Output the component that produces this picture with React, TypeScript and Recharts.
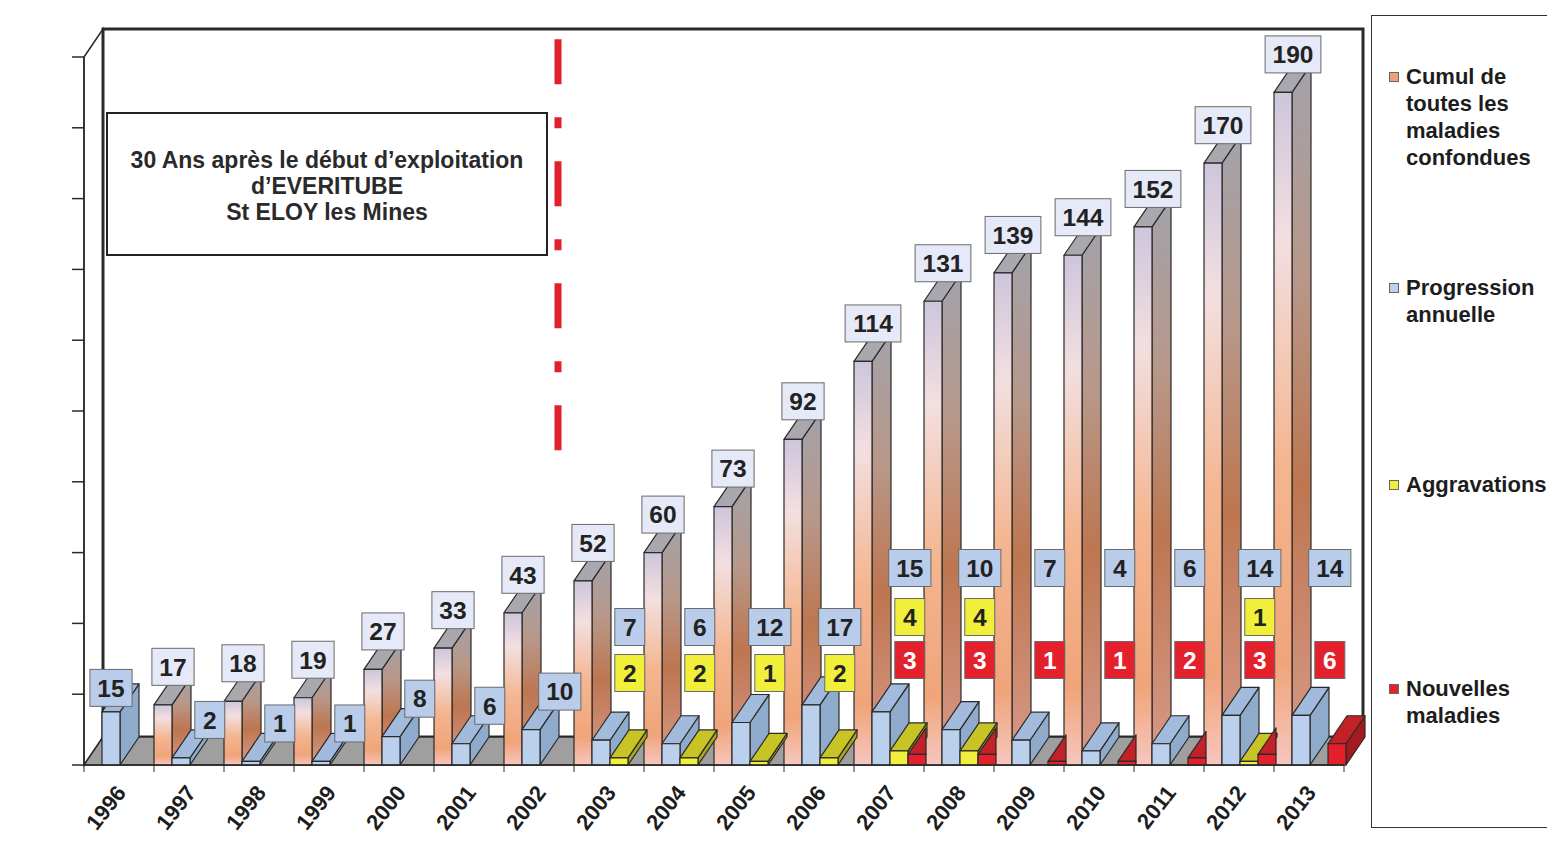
import React from "react";
import {
  Bar,
  BarChart,
  Customized,
  LabelList,
  Legend,
  ReferenceLine,
  XAxis,
  YAxis,
} from "recharts";

const years = [
  "1996", "1997", "1998", "1999", "2000", "2001", "2002", "2003", "2004",
  "2005", "2006", "2007", "2008", "2009", "2010", "2011", "2012", "2013",
];
const cumul = [null, 17, 18, 19, 27, 33, 43, 52, 60, 73, 92, 114, 131, 139, 144, 152, 170, 190];
const progression = [15, 2, 1, 1, 8, 6, 10, 7, 6, 12, 17, 15, 10, 7, 4, 6, 14, 14];
const aggravations = [null, null, null, null, null, null, null, 2, 2, 1, 2, 4, 4, null, null, null, 1, null];
const nouvelles = [null, null, null, null, null, null, null, null, null, null, null, 3, 3, 1, 1, 2, 3, 6];
const yTicks = [0, 20, 40, 60, 80, 100, 120, 140, 160, 180, 200];

const rows = years.map((year, i) => ({
  year,
  cumul: cumul[i],
  progression: progression[i],
  aggravations: aggravations[i],
  nouvelles: nouvelles[i],
}));

const FONT = '"Liberation Sans", Arial, Helvetica, sans-serif';
const W = 1547;
const H = 865;
const PLOT = { left: 84, right: 1344, top: 57, bottom: 765 };
const CAT_W = (PLOT.right - PLOT.left) / years.length;
const DX = 19;
const DY = -28;
const EDGE = "#2a2a2a";
const LAST = years.length - 1;

const PAL = {
  cumul: { front: "url(#orFront)", side: "url(#orSide)", top: "#a9a8ae", swatch: "#eea07c", label: "#e6e9f7" },
  progression: { front: "#bad0ec", side: "#8eabcb", top: "#a2badb", swatch: "#bad0ec", label: "#b9cdea" },
  aggravations: { front: "#f2ee3c", side: "#a9a51c", top: "#c9c426", swatch: "#f2ee3c", label: "#f2ef3a" },
  nouvelles: { front: "#e4202c", side: "#a51a1e", top: "#c22227", swatch: "#e4202c", label: "#e3202c" },
};

const SERIES = [
  { key: "cumul", slot: 0, name: "Cumul de toutes les maladies confondues", lines: ["Cumul de", "toutes les", "maladies", "confondues"], legendTop: 47 },
  { key: "progression", slot: 1, name: "Progression annuelle", lines: ["Progression", "annuelle"], legendTop: 258 },
  { key: "aggravations", slot: 2, name: "Aggravations", lines: ["Aggravations"], legendTop: 455 },
  { key: "nouvelles", slot: 3, name: "Nouvelles maladies", lines: ["Nouvelles", "maladies"], legendTop: 659 },
];

// year index of a bar, from its slot inside the category band
function yearIndex(x, width, slot) {
  return Math.round((x - slot * width - PLOT.left) / CAT_W);
}

function makeBox(pal, slot, hideSide) {
  return (props) => {
    const { x, y, width, height } = props;
    if (height == null || !(height > 0)) return null;
    const x2 = x + width;
    const yb = y + height;
    const hide = hideSide && yearIndex(x, width, slot) !== LAST;
    return (
      <g stroke={EDGE} strokeWidth={1.2} strokeLinejoin="round">
        {!hide && (
          <polygon
            points={`${x2},${y} ${x2 + DX},${y + DY} ${x2 + DX},${yb + DY} ${x2},${yb}`}
            fill={pal.side}
          />
        )}
        {hide ? (
          <polygon points={`${x},${y} ${x2},${y} ${x2},${y + (DY * width) / DX}`} fill={pal.top} />
        ) : (
          <polygon
            points={`${x},${y} ${x2},${y} ${x2 + DX},${y + DY} ${x + DX},${y + DY}`}
            fill={pal.top}
          />
        )}
        <rect x={x} y={y} width={width} height={height} fill={pal.front} />
      </g>
    );
  };
}

function LabelBox({ cx, cy, text, fill, color }) {
  const w = Math.max(30, String(text).length * 13.6 + 15);
  return (
    <g>
      <rect x={cx - w / 2} y={cy - 18.5} width={w} height={37} fill={fill} stroke="#6a6a6a" strokeWidth={1} />
      <text x={cx} y={cy + 8.8} textAnchor="middle" fontFamily={FONT} fontWeight={700} fontSize={24.5} fill={color}>
        {text}
      </text>
    </g>
  );
}

// labels of the three small series are stacked in one column per year
function stackY(i, base) {
  const red = base - 105;
  const yellow = nouvelles[i] ? red - 43 : base - 92;
  return { red, yellow, blueStacked: nouvelles[i] ? red - 92 : aggravations[i] ? yellow - 46 : null };
}

function makeLabel(key, slot) {
  return (props) => {
    const { x, y, width, height, value } = props;
    if (value == null || !(height > 0)) return null;
    const i = yearIndex(x, width, slot);
    const left = x - slot * width;
    const col = left + 3.1 * width;
    const base = y + height;
    const s = stackY(i, base);
    if (key === "cumul") {
      return <LabelBox cx={x + width / 2 + 10} cy={y - 38} text={value} fill={PAL.cumul.label} color="#222" />;
    }
    if (key === "progression") {
      const alone = cumul[i] == null;
      const cx = alone ? x + width / 2 : col;
      const cy = s.blueStacked != null ? s.blueStacked : alone ? y - 24 : y - 38;
      return <LabelBox cx={cx} cy={cy} text={value} fill={PAL.progression.label} color="#222" />;
    }
    if (key === "aggravations") {
      return <LabelBox cx={col} cy={s.yellow} text={value} fill={PAL.aggravations.label} color="#222" />;
    }
    return <LabelBox cx={col} cy={s.red} text={value} fill={PAL.nouvelles.label} color="#fff" />;
  };
}

function Backdrop() {
  const { left: L, right: R, top: T, bottom: B } = PLOT;
  return (
    <g>
      <polygon
        points={`${L},${T} ${L + DX},${T + DY} ${L + DX},${B + DY} ${L},${B}`}
        fill="#fff"
        stroke={EDGE}
        strokeWidth={1.5}
      />
      <rect x={L + DX} y={T + DY} width={R - L} height={B - T} fill="#fff" stroke={EDGE} strokeWidth={3} />
      <polygon
        points={`${L},${B} ${R},${B} ${R + DX},${B + DY} ${L + DX},${B + DY}`}
        fill="#9f9f9f"
        stroke={EDGE}
        strokeWidth={1.5}
      />
      <rect x={107} y={113} width={440} height={142} fill="#fff" stroke="#222" strokeWidth={2} />
      <text textAnchor="middle" fontFamily={FONT} fontWeight={700} fontSize={23} fill="#2a2a2a">
        <tspan x={327} y={168}>30 Ans après le début d’exploitation</tspan>
        <tspan x={327} y={194}>d’EVERITUBE</tspan>
        <tspan x={327} y={220}>St ELOY les Mines</tspan>
      </text>
    </g>
  );
}

function RedDash(p) {
  return (
    <line
      x1={p.x1 + DX}
      y1={p.y1}
      x2={p.x2 + DX}
      y2={p.y2}
      stroke="#e0202c"
      strokeWidth={7}
      strokeDasharray="45 33 11 33"
    />
  );
}

function YearTick({ x, y, payload, index }) {
  const half = CAT_W / 2;
  const tx = x + 8;
  const ty = y + 28;
  return (
    <g>
      <line x1={x - half} y1={y} x2={x - half} y2={y + 7} stroke={EDGE} />
      {index === LAST && <line x1={x + half} y1={y} x2={x + half} y2={y + 7} stroke={EDGE} />}
      <text
        x={tx}
        y={ty}
        transform={`rotate(-52, ${tx}, ${ty})`}
        textAnchor="end"
        fontFamily={FONT}
        fontWeight={700}
        fontSize={22}
        fill="#1d1d1d"
      >
        {payload.value}
      </text>
    </g>
  );
}

function LegendBox() {
  return (
    <div
      style={{
        position: "relative",
        width: 178,
        height: 813,
        boxSizing: "border-box",
        borderTop: "1.5px solid #333",
        borderLeft: "1.5px solid #333",
        borderBottom: "1.5px solid #333",
        fontFamily: FONT,
        fontWeight: 700,
        fontSize: 22,
        lineHeight: "27px",
        color: "#1d1d1d",
        whiteSpace: "nowrap",
      }}
    >
      {SERIES.map((s) => (
        <div key={s.key} style={{ position: "absolute", left: 34, top: s.legendTop }}>
          <span
            style={{
              position: "absolute",
              left: -17,
              top: 9,
              width: 8,
              height: 8,
              background: PAL[s.key].swatch,
              border: "1px solid #666",
            }}
          />
          {s.lines.map((line) => (
            <div key={line}>{line}</div>
          ))}
        </div>
      ))}
    </div>
  );
}

export default function App() {
  return (
    <div style={{ position: "absolute", left: 0, top: 0, width: W, height: H, overflow: "hidden", background: "#fff" }}>
      <svg width={0} height={0} style={{ position: "absolute" }}>
        <defs>
          <linearGradient id="orFront" x1="0" y1="0" x2="0" y2="1">
            <stop offset="0" stopColor="#cdc6dc" />
            <stop offset="0.22" stopColor="#f3dfe0" />
            <stop offset="0.55" stopColor="#f4b690" />
            <stop offset="0.85" stopColor="#f0a47a" />
            <stop offset="1" stopColor="#f6c6be" />
          </linearGradient>
          <linearGradient id="orSide" x1="0" y1="0" x2="0" y2="1">
            <stop offset="0" stopColor="#a3a2aa" />
            <stop offset="0.3" stopColor="#b8988a" />
            <stop offset="0.6" stopColor="#bd7650" />
            <stop offset="1" stopColor="#d89a8a" />
          </linearGradient>
        </defs>
      </svg>
      <BarChart
        width={W}
        height={H}
        data={rows}
        margin={{ top: PLOT.top, right: W - PLOT.right, bottom: 0, left: PLOT.left - 24 }}
        barCategoryGap={0}
        barGap={0}
      >
        <Customized component={Backdrop} />
        <XAxis
          dataKey="year"
          interval={0}
          height={H - PLOT.bottom}
          tickLine={false}
          tickSize={0}
          tickMargin={0}
          axisLine={{ stroke: EDGE, strokeWidth: 1.5 }}
          tick={<YearTick />}
        />
        <YAxis
          width={24}
          domain={[0, 200]}
          ticks={yTicks}
          tickSize={12}
          tickFormatter={() => ""}
          axisLine={{ stroke: EDGE, strokeWidth: 1.5 }}
          tickLine={{ stroke: EDGE, strokeWidth: 1.5 }}
        />
        <ReferenceLine
          segment={[{ x: "2002", y: 205 }, { x: "2002", y: 87.5 }]}
          ifOverflow="visible"
          shape={RedDash}
        />
        {SERIES.map((s) => (
          <Bar
            key={s.key}
            dataKey={s.key}
            name={s.name}
            fill={PAL[s.key].swatch}
            shape={makeBox(PAL[s.key], s.slot, s.key === "nouvelles")}
            isAnimationActive={false}
          >
            <LabelList dataKey={s.key} content={makeLabel(s.key, s.slot)} />
          </Bar>
        ))}
        <Legend
          layout="horizontal"
          verticalAlign="middle"
          align="center"
          wrapperStyle={{ left: 1371, top: 15, width: 178, height: 813 }}
          content={LegendBox}
        />
      </BarChart>
    </div>
  );
}
